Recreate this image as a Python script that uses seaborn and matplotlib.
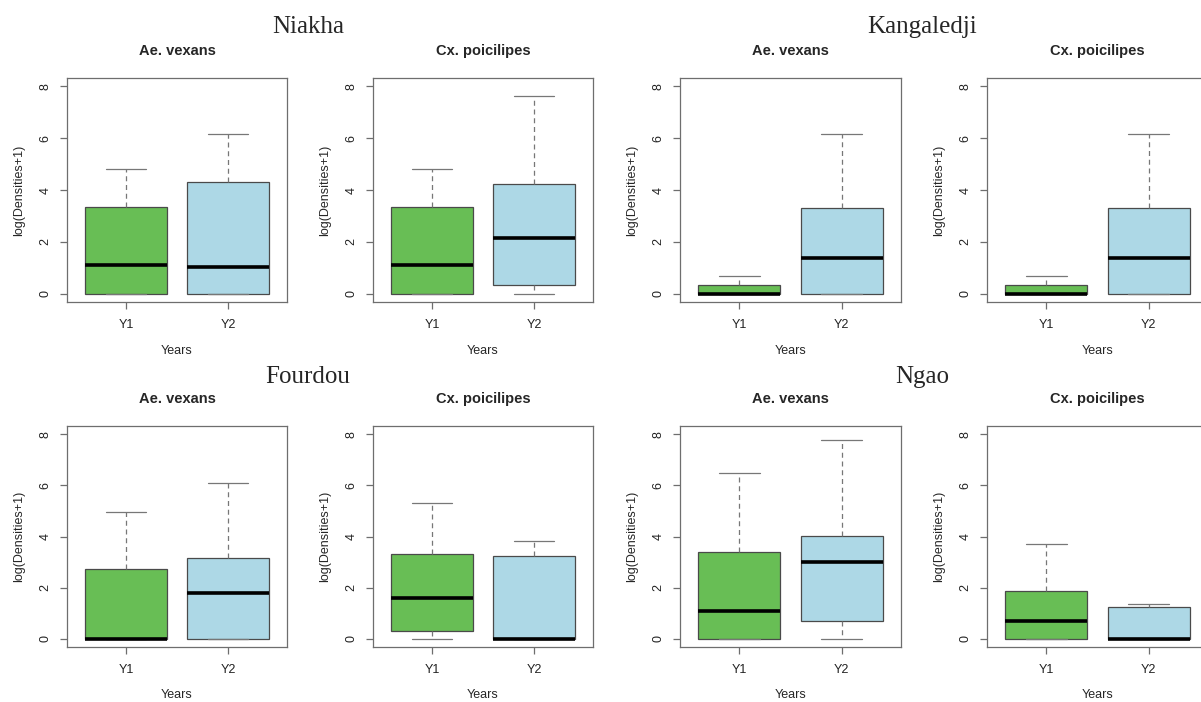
import numpy as np
import pandas as pd
import matplotlib
matplotlib.use('Agg')
import matplotlib.pyplot as plt
import seaborn as sns

# --- data ----------------------------------------------------------------
sites = ['Niakha', 'Kangaledji', 'Fourdou', 'Ngao']
species = ['Ae. vexans', 'Cx. poicilipes']
years = ['Y1', 'Y2']

# five-number summaries, ordered site -> species -> year
whisker_low = [0, 0, 0, 0,
               0, 0, 0, 0,
               0, 0, 0, 0,
               0, 0, 0, 0]
q1 = [0, 0, 0, 0.34,
      0, 0, 0, 0,
      0, 0, 0.32, 0,
      0, 0.69, 0, 0]
medians = [1.09, 1.04, 1.09, 2.16,
           0, 1.39, 0, 1.39,
           0, 1.79, 1.61, 0,
           1.09, 3.00, 0.68, 0]
q3 = [3.35, 4.32, 3.35, 4.23,
      0.34, 3.29, 0.34, 3.29,
      2.71, 3.14, 3.30, 3.25,
      3.38, 4.01, 1.87, 1.23]
whisker_high = [4.82, 6.17, 4.82, 7.64,
                0.69, 6.17, 0.69, 6.17,
                4.94, 6.10, 5.32, 3.81,
                6.49, 7.78, 3.70, 1.36]

colors = ['#68BE55', '#ADD8E6']

# long table: 5 points per box -> seaborn gets exactly these quartiles
rows = []
k = 0
for s in sites:
    for sp in species:
        for yr in years:
            for v in (whisker_low[k], q1[k], medians[k], q3[k], whisker_high[k]):
                rows.append({'site': s, 'species': sp, 'year': yr, 'value': v})
            k += 1
df = pd.DataFrame(rows)

# --- style ----------------------------------------------------------------
sns.set_style('ticks')
plt.rcParams['font.family'] = ['Liberation Sans', 'DejaVu Sans']
plt.rcParams['axes.edgecolor'] = '#6e6e6e'
plt.rcParams['xtick.color'] = '#6e6e6e'
plt.rcParams['ytick.color'] = '#6e6e6e'
plt.rcParams['xtick.labelcolor'] = '#222222'
plt.rcParams['ytick.labelcolor'] = '#222222'

W, H = 1201, 702
fig = plt.figure(figsize=(W / 100, H / 100), dpi=100)

# pixel boxes of each panel: (left, right) and (top, bottom)
col_x = [(67, 287), (373, 593), (680, 901), (987, 1208)]
row_y = [(78, 302), (426, 647)]
site_pos = [(0, 0), (0, 1), (1, 0), (1, 1)]   # (row, pair) for each site
site_title_y = [33, 383]
site_title_x = [308, 922]

for i, site in enumerate(sites):
    r, pair = site_pos[i]
    for j, sp in enumerate(species):
        c = pair * 2 + j
        x0, x1 = col_x[c]
        y0, y1 = row_y[r]
        ax = fig.add_axes([x0 / W, 1 - y1 / H, (x1 - x0) / W, (y1 - y0) / H])
        sub = df[(df['site'] == site) & (df['species'] == sp)]
        sns.boxplot(data=sub, x='year', y='value', hue='year', order=years,
                    hue_order=years, palette=colors, saturation=1,
                    legend=False, width=0.8, whis=(0, 100), showfliers=False,
                    linewidth=0.9, linecolor='#4a4a4a', ax=ax,
                    whiskerprops=dict(linestyle=(0, (4, 3)), color='#777777'),
                    capprops=dict(color='#777777'),
                    medianprops=dict(color='black', linewidth=2.6))
        ax.set_xlim(-0.58, 1.58)
        ax.set_ylim(-0.32, 8.32)
        ax.set_yticks([0, 2, 4, 6, 8])
        ax.tick_params(axis='both', length=5, width=0.9, labelsize=9)
        ax.tick_params(axis='y', labelrotation=90, pad=6)
        ax.tick_params(axis='x', pad=7)
        for lab in ax.get_yticklabels():
            lab.set_va('center')
        for sp_name in ax.spines:
            ax.spines[sp_name].set_linewidth(0.9)
        ax.set_title(sp, fontsize=10.5, fontweight='bold', pad=16.5)
        ax.set_xlabel('Years', fontsize=9)
        ax.set_ylabel('log(Densities+1)', fontsize=9)
        ax.xaxis.set_label_coords(0.5, -0.19)
        ax.yaxis.set_label_coords(-0.19, 0.5)

    fig.text(site_title_x[pair] / W, 1 - site_title_y[r] / H, site,
             ha='center', va='baseline', fontsize=18,
             family=['Liberation Serif', 'DejaVu Serif'])

fig.savefig('out.png', dpi=100)
